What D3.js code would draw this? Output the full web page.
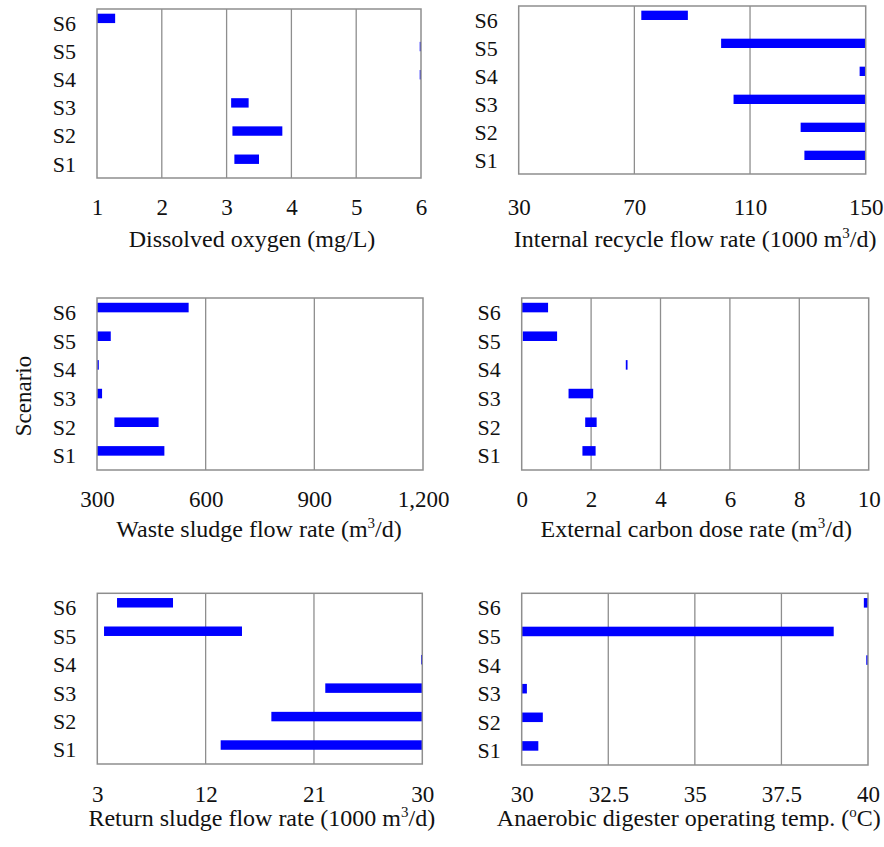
<!DOCTYPE html>
<html>
<head>
<meta charset="utf-8">
<script src="https://cdn.jsdelivr.net/npm/d3@7"></script>
<style>
  html, body { margin: 0; padding: 0; background: #fff; }
  svg { display: block; }
  text { font-family: "Liberation Serif", "Times New Roman", Times, serif; fill: #111; }
</style>
</head>
<body>
<svg id="chart" width="884" height="847"></svg>
<script>
const serif = '"Liberation Serif", "Times New Roman", Times, serif';

// Scenarios, bottom to top
const scenarios = ["S1", "S2", "S3", "S4", "S5", "S6"];

// Operating ranges per scenario (lower / upper bound), S1..S6
const doLow  = [3.12, 3.09, 3.07, 5.98, 5.98, 1.0];
const doHigh = [3.50, 3.86, 3.34, 6.0, 6.0, 1.28];

const irLow  = [128.8, 127.5, 104.3, 147.9, 100.0, 72.4];
const irHigh = [150, 150, 150, 150, 150, 88.5];

const wsLow  = [300, 348, 300, 300, 300, 300];
const wsHigh = [486, 470, 314, 305, 338, 553];

const ecLow  = [1.75, 1.83, 1.35, 3.0, 0.03, 0.0];
const ecHigh = [2.13, 2.16, 2.06, 3.05, 1.02, 0.76];

const rsLow  = [13.25, 17.46, 21.94, 29.9, 3.56, 4.64];
const rsHigh = [30, 30, 30, 30, 15.02, 9.29];

const adLow  = [30, 30, 30, 39.95, 30, 39.88];
const adHigh = [30.48, 30.61, 30.15, 40, 39.01, 40];

// Axis tick values
const doTicks = [1, 2, 3, 4, 5, 6];
const irTicks = [30, 70, 110, 150];
const wsTicks = [300, 600, 900, 1200];
const ecTicks = [0, 2, 4, 6, 8, 10];
const rsTicks = [3, 12, 21, 30];
const adTicks = [30, 32.5, 35, 37.5, 40];

// Axis titles: [text, superscript, trailing text]
const doTitle = ["Dissolved oxygen (mg/L)", "", ""];
const irTitle = ["Internal recycle flow rate (1000 m", "3", "/d)"];
const wsTitle = ["Waste sludge flow rate (m", "3", "/d)"];
const ecTitle = ["External carbon dose rate (m", "3", "/d)"];
const rsTitle = ["Return sludge flow rate (1000 m", "3", "/d)"];
const adTitle = ["Anaerobic digester operating temp. (", "o", "C)"];

const panels = [
  { low: doLow, high: doHigh, ticks: doTicks, title: doTitle, fmt: d3.format("d"),
    box: [97, 421, 9, 178], tickY: 37, titleY: 69, titleDx: -7 },
  { low: irLow, high: irHigh, ticks: irTicks, title: irTitle, fmt: d3.format("d"),
    box: [518.7, 865.7, 6, 174], tickY: 41, titleY: 73, titleDx: 3 },
  { low: wsLow, high: wsHigh, ticks: wsTicks, title: wsTitle, fmt: d3.format(","),
    box: [97, 423, 298, 470], tickY: 37, titleY: 67, titleDx: -1 },
  { low: ecLow, high: ecHigh, ticks: ecTicks, title: ecTitle, fmt: d3.format("d"),
    box: [521.7, 868.7, 298, 470], tickY: 37, titleY: 67, titleDx: 1 },
  { low: rsLow, high: rsHigh, ticks: rsTicks, title: rsTitle, fmt: d3.format("d"),
    box: [97.3, 422.3, 593.3, 764], tickY: 37.5, titleY: 62, titleDx: 2 },
  { low: adLow, high: adHigh, ticks: adTicks, title: adTitle, fmt: d => String(d),
    box: [521.7, 868, 593.3, 765], tickY: 37, titleY: 61, titleDx: -6 }
];

const svg = d3.select("#chart");
const gridColor = "#8e8e8e";

panels.forEach(p => {
  const [x0, x1, y0, y1] = p.box;
  const x = d3.scaleLinear()
    .domain([p.ticks[0], p.ticks[p.ticks.length - 1]])
    .range([x0, x1]);
  const y = d3.scaleBand()
    .domain(scenarios.slice().reverse())
    .range([y0, y1])
    .padding(0);
  const bw = y.bandwidth();
  const g = svg.append("g");

  // vertical gridlines at inner ticks
  g.append("g")
    .selectAll("line")
    .data(p.ticks.slice(1, -1))
    .join("line")
    .attr("x1", d => x(d)).attr("x2", d => x(d))
    .attr("y1", y0).attr("y2", y1)
    .attr("stroke", gridColor)
    .attr("stroke-width", 1.3);

  // range bars: upper slot of each category band
  const rows = scenarios.map((s, i) => ({ s, lo: p.low[i], hi: p.high[i] }));
  g.append("g")
    .selectAll("rect")
    .data(rows)
    .join("rect")
    .attr("x", d => x(d.lo))
    .attr("width", d => Math.max(1.2, x(d.hi) - x(d.lo)))
    .attr("y", d => y(d.s) + bw / 2 - bw / 3)
    .attr("height", bw / 3)
    .attr("fill", "#0000ff");

  // frame
  g.append("rect")
    .attr("x", x0).attr("y", y0)
    .attr("width", x1 - x0).attr("height", y1 - y0)
    .attr("fill", "none")
    .attr("stroke", gridColor)
    .attr("stroke-width", 1.5);

  // x axis tick labels
  const xAxis = d3.axisBottom(x)
    .tickValues(p.ticks)
    .tickFormat(p.fmt)
    .tickSize(0);
  const ax = g.append("g")
    .attr("transform", `translate(0,${y1})`)
    .call(xAxis)
    .attr("font-family", serif)
    .attr("font-size", 23);
  ax.select(".domain").remove();
  ax.selectAll("text")
    .attr("y", p.tickY)
    .attr("dy", null)
    .attr("fill", "#111");

  // y axis category labels
  const yAxis = d3.axisLeft(y).tickSize(0).tickPadding(21);
  const ay = g.append("g")
    .attr("transform", `translate(${x0},0)`)
    .call(yAxis)
    .attr("font-family", serif)
    .attr("font-size", 22);
  ay.select(".domain").remove();
  ay.selectAll("text")
    .attr("dy", "0.35em")
    .attr("fill", "#111");

  // axis title
  const t = g.append("text")
    .attr("x", (x0 + x1) / 2 + p.titleDx)
    .attr("y", y1 + p.titleY)
    .attr("text-anchor", "middle")
    .attr("font-family", serif)
    .attr("font-size", 24);
  t.append("tspan").text(p.title[0]);
  if (p.title[1]) {
    t.append("tspan")
      .attr("dy", -9)
      .attr("font-size", 15)
      .text(p.title[1]);
    t.append("tspan")
      .attr("dy", 9)
      .text(p.title[2]);
  }
});

// shared y axis title
svg.append("text")
  .attr("transform", "translate(31,396) rotate(-90)")
  .attr("text-anchor", "middle")
  .attr("font-family", serif)
  .attr("font-size", 23)
  .text("Scenario");
</script>
</body>
</html>
